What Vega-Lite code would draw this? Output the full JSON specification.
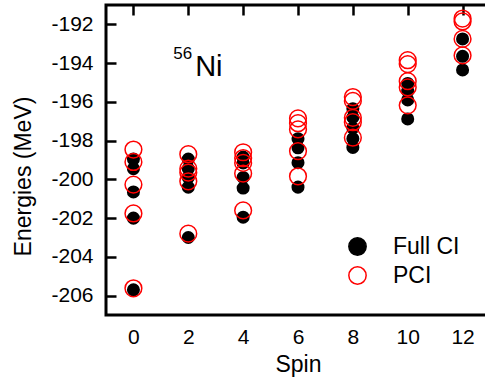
{
  "$schema": "https://vega.github.io/schema/vega-lite/v6.json",
  "width": 384,
  "height": 310,
  "autosize": {"type": "none"},
  "padding": {"left": 106, "top": 5, "right": -5, "bottom": 62},
  "background": "white",
  "config": {
    "view": {"stroke": "black", "strokeWidth": 3},
    "font": "Liberation Sans",
    "axis": {
      "domain": false,
      "ticks": false,
      "grid": true,
      "gridColor": "black",
      "gridOpacity": 1,
      "gridWidth": 2.5,
      "labelColor": "black",
      "titleColor": "black",
      "labelFont": "Liberation Sans",
      "titleFont": "Liberation Sans",
      "labelFontSize": 21,
      "titleFontSize": 23,
      "titleFontWeight": "normal"
    },
    "legend": {
      "orient": "none",
      "legendX": 240,
      "legendY": 230,
      "title": null,
      "padding": 0,
      "symbolType": "circle",
      "symbolSize": 300,
      "labelFontSize": 23,
      "labelFont": "Liberation Sans",
      "labelColor": "black",
      "labelOffset": 24,
      "rowPadding": 4
    }
  },
  "datasets": {
    "levels": [
      {"spin": 0, "energy": -198.95, "method": "Full CI"},
      {"spin": 0, "energy": -199.45, "method": "Full CI"},
      {"spin": 0, "energy": -200.65, "method": "Full CI"},
      {"spin": 0, "energy": -202.0, "method": "Full CI"},
      {"spin": 0, "energy": -205.7, "method": "Full CI"},
      {"spin": 2, "energy": -198.95, "method": "Full CI"},
      {"spin": 2, "energy": -199.45, "method": "Full CI"},
      {"spin": 2, "energy": -199.9, "method": "Full CI"},
      {"spin": 2, "energy": -200.4, "method": "Full CI"},
      {"spin": 2, "energy": -203.0, "method": "Full CI"},
      {"spin": 4, "energy": -198.85, "method": "Full CI"},
      {"spin": 4, "energy": -199.15, "method": "Full CI"},
      {"spin": 4, "energy": -199.9, "method": "Full CI"},
      {"spin": 4, "energy": -200.45, "method": "Full CI"},
      {"spin": 4, "energy": -201.95, "method": "Full CI"},
      {"spin": 6, "energy": -197.9, "method": "Full CI"},
      {"spin": 6, "energy": -198.37, "method": "Full CI"},
      {"spin": 6, "energy": -199.14, "method": "Full CI"},
      {"spin": 6, "energy": -200.4, "method": "Full CI"},
      {"spin": 8, "energy": -196.35, "method": "Full CI"},
      {"spin": 8, "energy": -196.8, "method": "Full CI"},
      {"spin": 8, "energy": -197.35, "method": "Full CI"},
      {"spin": 8, "energy": -197.9, "method": "Full CI"},
      {"spin": 8, "energy": -198.35, "method": "Full CI"},
      {"spin": 10, "energy": -195.05, "method": "Full CI"},
      {"spin": 10, "energy": -195.45, "method": "Full CI"},
      {"spin": 10, "energy": -195.9, "method": "Full CI"},
      {"spin": 10, "energy": -196.88, "method": "Full CI"},
      {"spin": 12, "energy": -192.75, "method": "Full CI"},
      {"spin": 12, "energy": -193.65, "method": "Full CI"},
      {"spin": 12, "energy": -194.35, "method": "Full CI"},
      {"spin": 0, "energy": -198.46, "method": "PCI"},
      {"spin": 0, "energy": -199.1, "method": "PCI"},
      {"spin": 0, "energy": -200.27, "method": "PCI"},
      {"spin": 0, "energy": -201.76, "method": "PCI"},
      {"spin": 0, "energy": -205.62, "method": "PCI"},
      {"spin": 2, "energy": -198.7, "method": "PCI"},
      {"spin": 2, "energy": -199.45, "method": "PCI"},
      {"spin": 2, "energy": -199.65, "method": "PCI"},
      {"spin": 2, "energy": -200.1, "method": "PCI"},
      {"spin": 2, "energy": -202.8, "method": "PCI"},
      {"spin": 4, "energy": -198.6, "method": "PCI"},
      {"spin": 4, "energy": -198.9, "method": "PCI"},
      {"spin": 4, "energy": -199.15, "method": "PCI"},
      {"spin": 4, "energy": -199.7, "method": "PCI"},
      {"spin": 4, "energy": -201.6, "method": "PCI"},
      {"spin": 6, "energy": -196.85, "method": "PCI"},
      {"spin": 6, "energy": -197.1, "method": "PCI"},
      {"spin": 6, "energy": -197.42, "method": "PCI"},
      {"spin": 6, "energy": -198.54, "method": "PCI"},
      {"spin": 6, "energy": -199.84, "method": "PCI"},
      {"spin": 8, "energy": -195.75, "method": "PCI"},
      {"spin": 8, "energy": -195.95, "method": "PCI"},
      {"spin": 8, "energy": -196.82, "method": "PCI"},
      {"spin": 8, "energy": -197.05, "method": "PCI"},
      {"spin": 8, "energy": -197.85, "method": "PCI"},
      {"spin": 10, "energy": -193.85, "method": "PCI"},
      {"spin": 10, "energy": -194.05, "method": "PCI"},
      {"spin": 10, "energy": -194.93, "method": "PCI"},
      {"spin": 10, "energy": -195.25, "method": "PCI"},
      {"spin": 10, "energy": -196.18, "method": "PCI"},
      {"spin": 12, "energy": -191.7, "method": "PCI"},
      {"spin": 12, "energy": -191.85, "method": "PCI"},
      {"spin": 12, "energy": -192.75, "method": "PCI"},
      {"spin": 12, "energy": -193.6, "method": "PCI"}
    ],
    "nucleus": [
      {"part": "Ni", "spin": 2.25, "energy": -194.69},
      {"part": "56", "spin": 1.45, "energy": -193.81}
    ]
  },
  "layer": [
    {
      "data": {"name": "levels"},
      "transform": [{"filter": "datum.method === 'Full CI'"}],
      "mark": {"type": "point", "filled": true, "size": 170, "strokeWidth": 0, "opacity": 1},
      "encoding": {
        "x": {
          "field": "spin",
          "type": "quantitative",
          "scale": {"domain": [-1, 13], "nice": false, "zero": false},
          "axis": {
            "orient": "bottom",
            "values": [0, 2, 4, 6, 8, 10, 12],
            "gridDash": [10, 1000],
            "labelExpr": "'' + datum.value",
            "labelPadding": 11,
            "title": "Spin",
            "titleY": 56,
            "titleBaseline": "alphabetic"
          }
        },
        "y": {
          "field": "energy",
          "type": "quantitative",
          "scale": {"domain": [-207, -191], "nice": false, "zero": false},
          "axis": {
            "orient": "left",
            "values": [-206, -204, -202, -200, -198, -196, -194, -192],
            "gridDash": [10, 1000],
            "labelExpr": "'' + datum.value",
            "labelPadding": 13,
            "title": "Energies (MeV)",
            "titleAngle": -90,
            "titleX": -76,
            "titleY": 171,
            "titleAlign": "center",
            "titleBaseline": "alphabetic"
          }
        },
        "fill": {
          "field": "method",
          "type": "nominal",
          "scale": {"domain": ["Full CI", "PCI"], "range": ["black", "transparent"]},
          "legend": {
            "encode": {
              "symbols": {
                "strokeWidth": {"condition": {"test": "datum.value === 'Full CI'", "value": 0}, "value": 1.5},
                "size": {"condition": {"test": "datum.value === 'Full CI'", "value": 190}, "value": 300}
              }
            }
          }
        },
        "stroke": {
          "field": "method",
          "type": "nominal",
          "scale": {"domain": ["Full CI", "PCI"], "range": ["black", "red"]},
          "legend": {
            "encode": {
              "symbols": {
                "strokeWidth": {"condition": {"test": "datum.value === 'Full CI'", "value": 0}, "value": 1.5},
                "size": {"condition": {"test": "datum.value === 'Full CI'", "value": 190}, "value": 300}
              }
            }
          }
        }
      }
    },
    {
      "data": {"name": "levels"},
      "transform": [{"filter": "datum.method === 'PCI'"}],
      "mark": {"type": "point", "filled": false, "color": "red", "size": 280, "strokeWidth": 1.5, "opacity": 1},
      "encoding": {
        "x": {
          "field": "spin",
          "type": "quantitative",
          "axis": {
            "orient": "top",
            "values": [0, 2, 4, 6, 8, 10, 12],
            "gridDash": [10, 1000],
            "labels": false,
            "title": null
          }
        },
        "y": {
          "field": "energy",
          "type": "quantitative",
          "axis": {
            "orient": "right",
            "values": [-206, -204, -202, -200, -198, -196, -194, -192],
            "gridDash": [10, 1000],
            "labels": false,
            "title": null
          }
        }
      }
    },
    {
      "data": {"name": "nucleus"},
      "transform": [{"filter": "datum.part === 'Ni'"}],
      "mark": {"type": "text", "fontSize": 29, "align": "left", "baseline": "alphabetic", "font": "Liberation Sans", "color": "black"},
      "encoding": {
        "text": {"field": "part"},
        "x": {
          "field": "spin",
          "type": "quantitative",
          "axis": {"orient": "bottom", "values": [1, 3, 5, 7, 9, 11], "gridDash": [5, 1000], "labels": false, "title": null}
        },
        "y": {
          "field": "energy",
          "type": "quantitative",
          "axis": {"orient": "left", "values": [-205, -203, -201, -199, -197, -195, -193], "gridDash": [5, 1000], "labels": false, "title": null}
        }
      }
    },
    {
      "data": {"name": "nucleus"},
      "transform": [{"filter": "datum.part === '56'"}],
      "mark": {"type": "text", "fontSize": 17, "align": "left", "baseline": "alphabetic", "font": "Liberation Sans", "color": "black"},
      "encoding": {
        "text": {"field": "part"},
        "x": {
          "field": "spin",
          "type": "quantitative",
          "axis": {"orient": "top", "values": [1, 3, 5, 7, 9, 11], "gridDash": [5, 1000], "labels": false, "title": null}
        },
        "y": {
          "field": "energy",
          "type": "quantitative",
          "axis": {"orient": "right", "values": [-205, -203, -201, -199, -197, -195, -193], "gridDash": [5, 1000], "labels": false, "title": null}
        }
      }
    }
  ],
  "resolve": {"axis": {"x": "independent", "y": "independent"}}
}
